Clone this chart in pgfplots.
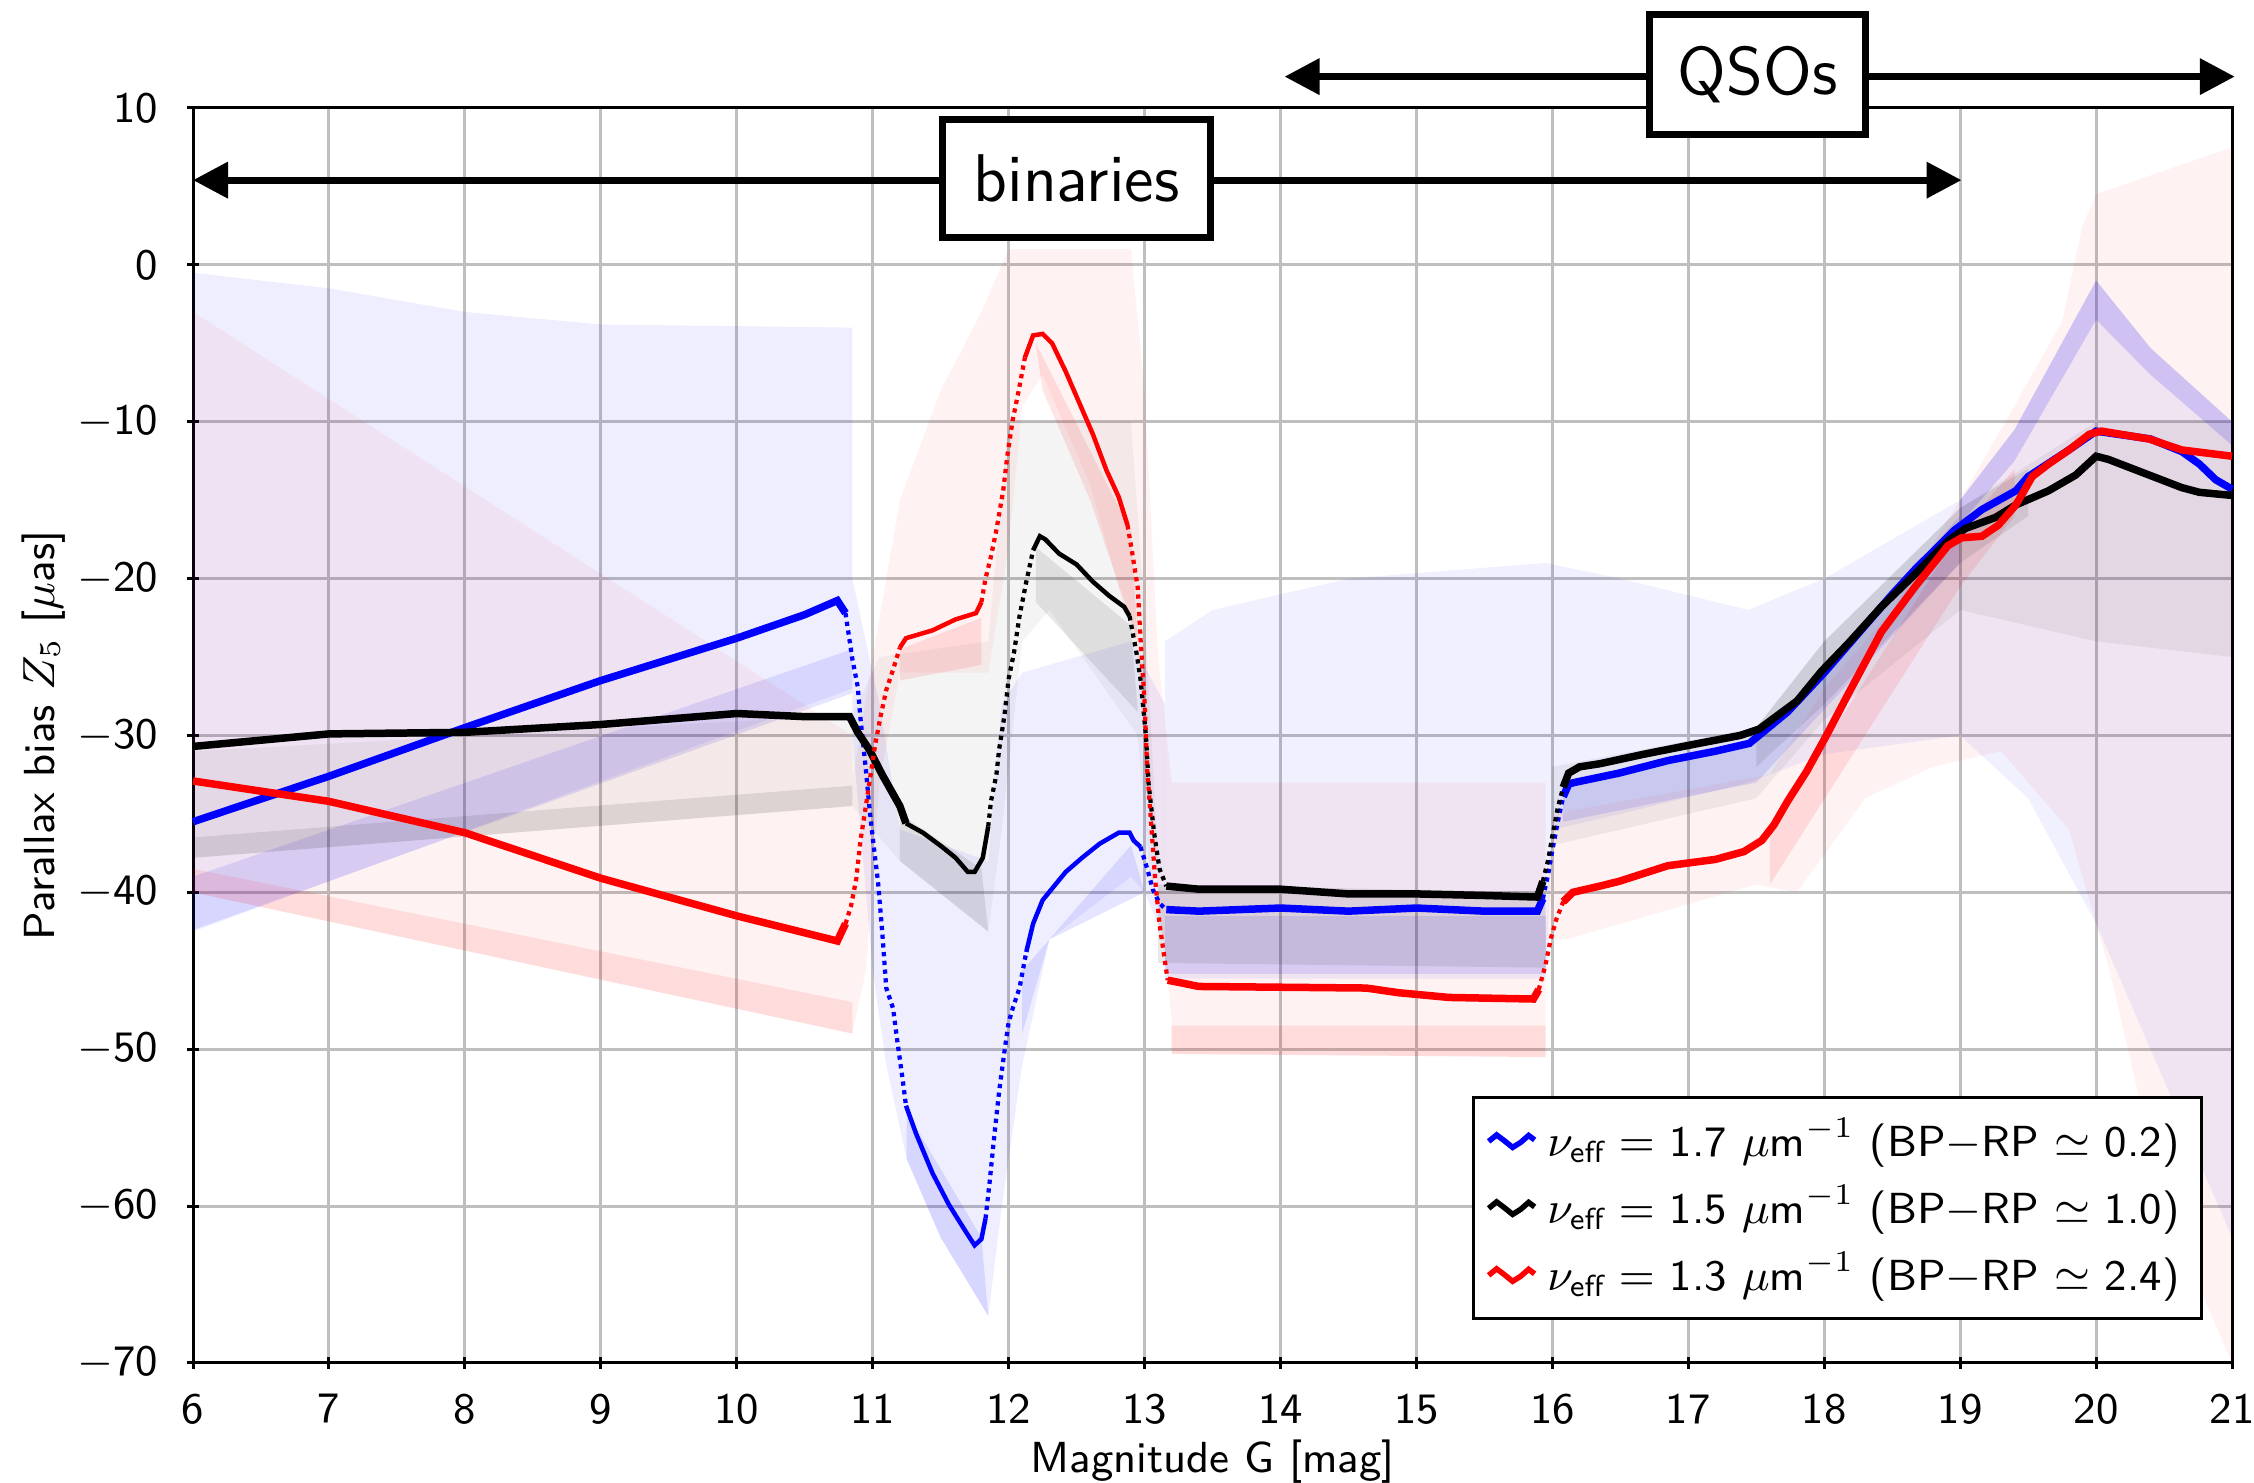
\documentclass[border=0pt]{standalone}
\usepackage{amsmath}
\usepackage{pgfplots}
\pgfplotsset{compat=1.18}
\usetikzlibrary{arrows.meta}
\renewcommand{\familydefault}{\sfdefault}
\newcommand{\tf}{\fontsize{8.7}{10.4}\selectfont}
\begin{document}
\begin{tikzpicture}
\begin{axis}[
  scale only axis, width=407.8pt, height=251pt,
  xmin=6, xmax=21, ymin=-70, ymax=10,
  clip=false,
  font=\tf,
  xtick={6,7,8,9,10,11,12,13,14,15,16,17,18,19,20,21},
  xticklabels={6,7,8,9,10,11,12,13,14,15,16,17,18,19,20,21},
  ytick={-70,-60,-50,-40,-30,-20,-10,0,10},
  yticklabels={$-$70,$-$60,$-$50,$-$40,$-$30,$-$20,$-$10,0,10},
  xtick pos=left, ytick pos=left,
  tick align=center, major tick length=2.4pt,
  every tick/.style={black, line width=0.6pt},
  axis line style={line width=0.6pt},
  xticklabel style={yshift=-1.5pt},
  yticklabel style={xshift=-2.3pt},
  grid=major,
  grid style={line width=0.6pt, color=black!25},
  xlabel={Magnitude G [mag]},
  ylabel={Parallax bias $Z_5$ [$\mu$as]},
  xlabel style={at={(axis description cs:0.5,0)}, anchor=base, yshift=-22pt},
  ylabel style={at={(axis description cs:-0.0731,0.5)}, anchor=center},
  legend cell align=left,
  legend style={at={(0.986,0.034)}, anchor=south east, draw=black, line width=0.6pt,
    font=\tf, row sep=0.4pt, inner xsep=2.5pt, inner ysep=2.2pt,
    nodes={inner ysep=1.9pt}},
  legend image code/.code={\draw[#1, line width=1.1pt, solid] (0pt,0pt) -- (1.6pt,1.3pt) -- (3.2pt,0.1pt) -- (4.8pt,-1.2pt) -- (6.4pt,-0.2pt) -- (8pt,1.2pt) -- (9.2pt,0.3pt);},
  thk/.style={line width=1.5pt},
  med/.style={line width=0.9pt},
  dsh/.style={line width=0.85pt, dash pattern=on 0.85pt off 0.9pt},
]
% ---------------- clouds: blue ----------------
\addplot[draw=none, fill=blue, fill opacity=0.065, forget plot] coordinates {(6,-0.5) (7,-1.5) (8,-3) (9,-3.8) (10.85,-4) (10.85,-27) (6,-42.5)} -- cycle;
\addplot[draw=none, fill=blue, fill opacity=0.1, forget plot] coordinates {(6,-39) (10.85,-24.5) (10.85,-27.3) (6,-42.4)} -- cycle;
\addplot[draw=none, fill=blue, fill opacity=0.065, forget plot] coordinates {(10.85,-20) (11.05,-28) (11.2,-36) (11.85,-38) (11.95,-28) (12.1,-26) (12.9,-24) (13.15,-28) (13.15,-43) (13.0,-40) (12.9,-39) (12.3,-43) (12.1,-51) (11.95,-60) (11.85,-67) (11.5,-62) (11.25,-57) (11.1,-51) (11.0,-45) (10.85,-30)} -- cycle;
\addplot[draw=none, fill=blue, fill opacity=0.1, forget plot] coordinates {(11.25,-54) (11.8,-62) (11.85,-67) (11.5,-62) (11.25,-57)} -- cycle;
\addplot[draw=none, fill=blue, fill opacity=0.1, forget plot] coordinates {(12.1,-45) (12.9,-37) (13.0,-40) (12.3,-43) (12.1,-49)} -- cycle;
\addplot[draw=none, fill=blue, fill opacity=0.06, forget plot] coordinates {(13.15,-24) (13.5,-22) (14.5,-20) (15.95,-19) (15.95,-45.5) (13.15,-45.5)} -- cycle;
\addplot[draw=none, fill=blue, fill opacity=0.11, forget plot] coordinates {(13.15,-41.5) (15.95,-41.5) (15.95,-45.2) (13.15,-45.2)} -- cycle;
\addplot[draw=none, fill=blue, fill opacity=0.06, forget plot] coordinates {(15.95,-19) (16.5,-20) (17.44,-22) (18,-20) (19,-15) (19.4,-10.5) (20,-1) (20.4,-5.3) (21,-10) (21,-62) (20.5,-52) (20,-42) (19.5,-34) (19,-30) (18,-31.2) (17.44,-33) (16.5,-35) (16.0,-36) (15.95,-46)} -- cycle;
\addplot[draw=none, fill=blue, fill opacity=0.15, forget plot] coordinates {(19,-15) (19.4,-10.5) (20,-1) (20.4,-5.3) (21,-10) (21,-11.5) (20.4,-7) (20,-3.5) (19.4,-12.5) (19,-16.5)} -- cycle;
\addplot[draw=none, fill=blue, fill opacity=0.11, forget plot] coordinates {(16.08,-33) (17.5,-30.5) (19,-16) (19,-19) (17.5,-33) (16.08,-35.5)} -- cycle;
% ---------------- clouds: red ----------------
\addplot[draw=none, fill=red, fill opacity=0.05, forget plot] coordinates {(6,-3) (10.85,-30) (10.85,-49) (6,-40)} -- cycle;
\addplot[draw=none, fill=red, fill opacity=0.09, forget plot] coordinates {(6,-38.5) (10.85,-47) (10.85,-49) (6,-40)} -- cycle;
\addplot[draw=none, fill=red, fill opacity=0.05, forget plot] coordinates {(10.85,-33) (11.0,-25) (11.2,-15) (11.5,-8) (11.8,-3) (12.0,1) (12.9,1) (13.0,-8) (13.1,-25) (13.2,-33) (13.2,-48) (13.05,-36) (12.95,-25) (12.6,-14) (12.25,-7) (12.1,-9) (12.0,-18) (11.85,-26) (11.2,-26) (11.05,-33) (10.95,-45) (10.85,-49)} -- cycle;
\addplot[draw=none, fill=red, fill opacity=0.1, forget plot] coordinates {(11.2,-24.5) (11.8,-22.5) (11.8,-25.5) (11.2,-26.5)} -- cycle;
\addplot[draw=none, fill=red, fill opacity=0.1, forget plot] coordinates {(12.2,-5) (12.9,-17) (12.95,-24) (12.6,-15) (12.25,-8)} -- cycle;
\addplot[draw=none, fill=red, fill opacity=0.05, forget plot] coordinates {(13.2,-33) (15.95,-33) (15.95,-50.5) (13.2,-50.3)} -- cycle;
\addplot[draw=none, fill=red, fill opacity=0.09, forget plot] coordinates {(13.2,-48.5) (15.95,-48.5) (15.95,-50.5) (13.2,-50.3)} -- cycle;
\addplot[draw=none, fill=red, fill opacity=0.05, forget plot] coordinates {(16,-35) (17.6,-32.5) (18,-27) (18.5,-22) (19,-15) (19.4,-9) (19.75,-3.6) (19.9,2.5) (20,4.5) (21,7.5) (21,-70) (20.5,-60) (20.1,-45) (19.8,-36) (19.3,-31) (18.8,-32) (18.3,-34) (17.8,-40) (17.5,-39.5) (16.1,-43) (15.95,-43)} -- cycle;
\addplot[draw=none, fill=red, fill opacity=0.1, forget plot] coordinates {(17.6,-36) (19,-17) (19.4,-13) (19.4,-16) (19,-20.5) (17.6,-39.5)} -- cycle;
% ---------------- clouds: gray ----------------
\addplot[draw=none, fill=black, fill opacity=0.045, forget plot] coordinates {(6,-31) (10.85,-28.7) (10.85,-34.5) (6,-37.8)} -- cycle;
\addplot[draw=none, fill=black, fill opacity=0.09, forget plot] coordinates {(6,-36.5) (10.85,-33.2) (10.85,-34.5) (6,-37.8)} -- cycle;
\addplot[draw=none, fill=black, fill opacity=0.045, forget plot] coordinates {(10.85,-28.7) (11.05,-25) (11.85,-24) (12.0,-10) (12.9,-10) (13.0,-22) (13.1,-38) (13.05,-40) (12.95,-30) (12.3,-22) (12.1,-24) (11.95,-36) (11.85,-42.5) (11.2,-38) (10.85,-34.5)} -- cycle;
\addplot[draw=none, fill=black, fill opacity=0.09, forget plot] coordinates {(11.2,-35) (11.8,-38.5) (11.85,-42.5) (11.2,-38)} -- cycle;
\addplot[draw=none, fill=black, fill opacity=0.09, forget plot] coordinates {(12.2,-18) (12.9,-23) (12.95,-28.5) (12.2,-21.5)} -- cycle;
\addplot[draw=none, fill=black, fill opacity=0.09, forget plot] coordinates {(13.1,-39.5) (15.95,-40) (15.95,-44.8) (13.1,-44.5)} -- cycle;
\addplot[draw=none, fill=black, fill opacity=0.06, forget plot] coordinates {(16,-32) (17.5,-29.5) (18,-24) (19,-15.5) (20,-10) (21,-10) (21,-25) (20,-24) (19,-22) (18,-29) (17.5,-34) (16,-37)} -- cycle;
\addplot[draw=none, fill=black, fill opacity=0.09, forget plot] coordinates {(17.5,-29.5) (18,-24) (19,-15.5) (19.5,-13) (19.5,-16) (19,-19) (18,-28) (17.5,-32)} -- cycle;
% ---------------- blue curve ----------------
\addplot[blue, thk] coordinates {(6,-35.5) (7,-32.6) (8,-29.5) (9,-26.5) (10,-23.8) (10.5,-22.3) (10.74,-21.4) (10.8,-22.2)};
\addlegendentry{$\nu_{\text{eff}} =$ 1.7 $\mu$m$^{-1}$ (BP$-$RP $\simeq$ 0.2)}
\addplot[blue, dsh, forget plot] coordinates {(10.8,-22.2) (10.85,-25.1) (10.89,-26.9) (10.91,-28.9) (10.95,-32.2) (10.975,-34.5) (11.0,-36.5) (11.04,-39.4) (11.07,-42.5) (11.1,-46.1) (11.15,-47.4) (11.18,-49.4) (11.22,-51.9) (11.245,-53.6)};
\addplot[blue, med, forget plot] coordinates {(11.245,-53.6) (11.32,-55.4) (11.44,-57.9) (11.56,-59.9) (11.69,-61.7) (11.75,-62.5) (11.80,-62.1) (11.83,-60.8)};
\addplot[blue, dsh, forget plot] coordinates {(11.83,-60.8) (11.86,-58.5) (11.89,-55.9) (11.93,-52.7) (11.97,-50.1) (12.0,-48.3) (12.03,-47.4) (12.08,-46.1) (12.13,-43.8)};
\addplot[blue, med, forget plot] coordinates {(12.13,-43.8) (12.18,-42.0) (12.25,-40.5) (12.42,-38.7) (12.54,-37.8) (12.67,-36.9) (12.81,-36.2) (12.89,-36.2) (12.92,-36.7) (12.97,-37.1)};
\addplot[blue, dsh, forget plot] coordinates {(12.97,-37.1) (13.02,-38.5) (13.06,-39.8) (13.11,-40.7) (13.16,-41.1)};
\addplot[blue, thk, forget plot] coordinates {(13.16,-41.1) (13.4,-41.2) (14,-41.0) (14.5,-41.2) (15,-41.0) (15.5,-41.2) (15.89,-41.2) (15.93,-40.4)};
\addplot[blue, dsh, forget plot] coordinates {(15.93,-40.4) (15.97,-38.8) (16.0,-37.3) (16.04,-35.5) (16.08,-33.9)};
\addplot[blue, thk, forget plot] coordinates {(16.08,-33.9) (16.12,-33.1) (16.16,-33.0) (16.49,-32.4) (16.85,-31.6) (17.2,-31.0) (17.45,-30.5) (17.59,-29.5) (17.73,-28.5) (18.0,-26.0) (18.2,-24.0) (18.5,-21.0) (18.67,-19.4) (18.96,-16.9) (19.16,-15.6) (19.41,-14.4) (19.5,-13.5) (19.8,-11.8) (20.0,-10.6) (20.4,-11.1) (20.63,-11.9) (20.76,-12.7) (20.88,-13.7) (21,-14.3)};
% ---------------- black curve ----------------
\addplot[black, thk] coordinates {(6,-30.7) (7,-29.9) (8,-29.8) (9,-29.3) (10,-28.6) (10.5,-28.8) (10.83,-28.8) (10.89,-29.8) (10.975,-30.9) (11.07,-32.5) (11.2,-34.5) (11.245,-35.6)};
\addlegendentry{$\nu_{\text{eff}} =$ 1.5 $\mu$m$^{-1}$ (BP$-$RP $\simeq$ 1.0)}
\addplot[black, med, forget plot] coordinates {(11.245,-35.6) (11.37,-36.2) (11.51,-37.1) (11.61,-37.8) (11.70,-38.7) (11.75,-38.7) (11.81,-37.8) (11.85,-35.8)};
\addplot[black, dsh, forget plot] coordinates {(11.85,-35.8) (11.87,-34.2) (11.91,-32.5) (11.93,-30.9) (11.97,-28.7) (12.0,-26.4) (12.04,-24.7) (12.08,-22.4) (12.13,-20.2) (12.18,-18.2)};
\addplot[black, med, forget plot] coordinates {(12.18,-18.2) (12.23,-17.3) (12.27,-17.5) (12.37,-18.4) (12.50,-19.1) (12.62,-20.2) (12.74,-21.1) (12.85,-21.8) (12.89,-22.4)};
\addplot[black, dsh, forget plot] coordinates {(12.89,-22.4) (12.94,-24.7) (12.97,-26.4) (13.01,-30.0) (13.03,-33.1) (13.07,-36.2) (13.11,-38.5) (13.16,-39.6)};
\addplot[black, thk, forget plot] coordinates {(13.16,-39.6) (13.4,-39.8) (14,-39.8) (14.5,-40.1) (15,-40.1) (15.5,-40.2) (15.89,-40.3) (15.93,-39.3)};
\addplot[black, dsh, forget plot] coordinates {(15.93,-39.3) (15.97,-37.9) (16.0,-36.4) (16.04,-34.6) (16.08,-33.3)};
\addplot[black, thk, forget plot] coordinates {(16.08,-33.3) (16.12,-32.4) (16.2,-32.0) (16.35,-31.8) (16.67,-31.2) (17.02,-30.6) (17.38,-30.0) (17.52,-29.6) (17.66,-28.7) (17.80,-27.8) (17.98,-25.9) (18.18,-24.1) (18.42,-21.8) (18.67,-19.7) (18.91,-17.6) (19.04,-16.8) (19.26,-16.1) (19.41,-15.3) (19.65,-14.4) (19.85,-13.4) (20.0,-12.2) (20.09,-12.4) (20.39,-13.4) (20.63,-14.2) (20.76,-14.5) (21.0,-14.7)};
% ---------------- red curve ----------------
\addplot[red, thk] coordinates {(6,-32.9) (7,-34.2) (8,-36.2) (9,-39.1) (10,-41.5) (10.74,-43.1) (10.80,-42.0)};
\addlegendentry{$\nu_{\text{eff}} =$ 1.3 $\mu$m$^{-1}$ (BP$-$RP $\simeq$ 2.4)}
\addplot[red, dsh, forget plot] coordinates {(10.80,-42.0) (10.84,-40.9) (10.88,-39.1) (10.91,-36.7) (10.95,-34.5) (10.99,-32.2) (11.02,-30.5) (11.06,-28.7) (11.10,-27.1) (11.15,-25.8) (11.20,-24.4)};
\addplot[red, med, forget plot] coordinates {(11.20,-24.4) (11.245,-23.8) (11.44,-23.3) (11.61,-22.6) (11.76,-22.2) (11.80,-21.5)};
\addplot[red, dsh, forget plot] coordinates {(11.80,-21.5) (11.83,-20.0) (11.87,-18.6) (11.91,-16.9) (11.96,-14.4) (11.99,-12.2) (12.03,-9.9) (12.07,-8.2) (12.12,-5.9)};
\addplot[red, med, forget plot] coordinates {(12.12,-5.9) (12.18,-4.5) (12.25,-4.4) (12.32,-5.0) (12.42,-6.8) (12.52,-8.8) (12.62,-10.8) (12.72,-13.1) (12.81,-14.8) (12.875,-16.6)};
\addplot[red, dsh, forget plot] coordinates {(12.875,-16.6) (12.91,-18.4) (12.95,-20.6) (12.97,-23.8) (13.0,-27.8) (13.02,-32.2) (13.05,-35.8) (13.08,-39.4) (13.11,-42.0) (13.14,-43.8) (13.17,-45.6)};
\addplot[red, thk, forget plot] coordinates {(13.17,-45.6) (13.4,-46.0) (14.63,-46.1) (14.87,-46.4) (15.24,-46.7) (15.86,-46.8) (15.9,-46.2)};
\addplot[red, dsh, forget plot] coordinates {(15.9,-46.2) (15.95,-44.6) (15.99,-42.9) (16.03,-41.7) (16.08,-40.6)};
\addplot[red, thk, forget plot] coordinates {(16.08,-40.6) (16.15,-40.0) (16.35,-39.6) (16.49,-39.3) (16.85,-38.3) (17.2,-37.9) (17.41,-37.4) (17.54,-36.7) (17.63,-35.7) (17.73,-34.2) (17.87,-32.3) (18.01,-30.1) (18.18,-27.3) (18.42,-23.4) (18.67,-20.5) (18.91,-17.9) (19.01,-17.4) (19.16,-17.3) (19.28,-16.6) (19.41,-15.3) (19.53,-13.5) (19.65,-12.7) (19.8,-11.8) (19.95,-10.8) (20.04,-10.6) (20.39,-11.1) (20.63,-11.8) (21.0,-12.2)};
% ---------------- annotations ----------------
\draw[line width=1.4pt, {Triangle[length=7pt,width=7pt]}-{Triangle[length=7pt,width=7pt]}] (axis cs:6,5.4) -- (axis cs:19.01,5.4);
\node[draw, line width=1.3pt, fill=white, inner sep=0pt, minimum width=53.6pt, minimum height=23.6pt, font=\fontsize{13.5}{16}\selectfont] at (axis cs:12.5,5.5) {binaries};
\draw[line width=1.4pt, {Triangle[length=7pt,width=7pt]}-{Triangle[length=7pt,width=7pt]}] (axis cs:14.03,12) -- (axis cs:21.02,12);
\node[draw, line width=1.3pt, fill=white, inner sep=0pt, minimum width=43.2pt, minimum height=24pt, font=\fontsize{13.5}{16}\selectfont] at (axis cs:17.51,12.15) {QSOs};
\end{axis}
\pgfresetboundingbox
\useasboundingbox ([xshift=-38.6pt,yshift=-24pt]current axis.south west) rectangle ([xshift=4.4pt,yshift=21.6pt]current axis.north east);
\end{tikzpicture}
\end{document}
